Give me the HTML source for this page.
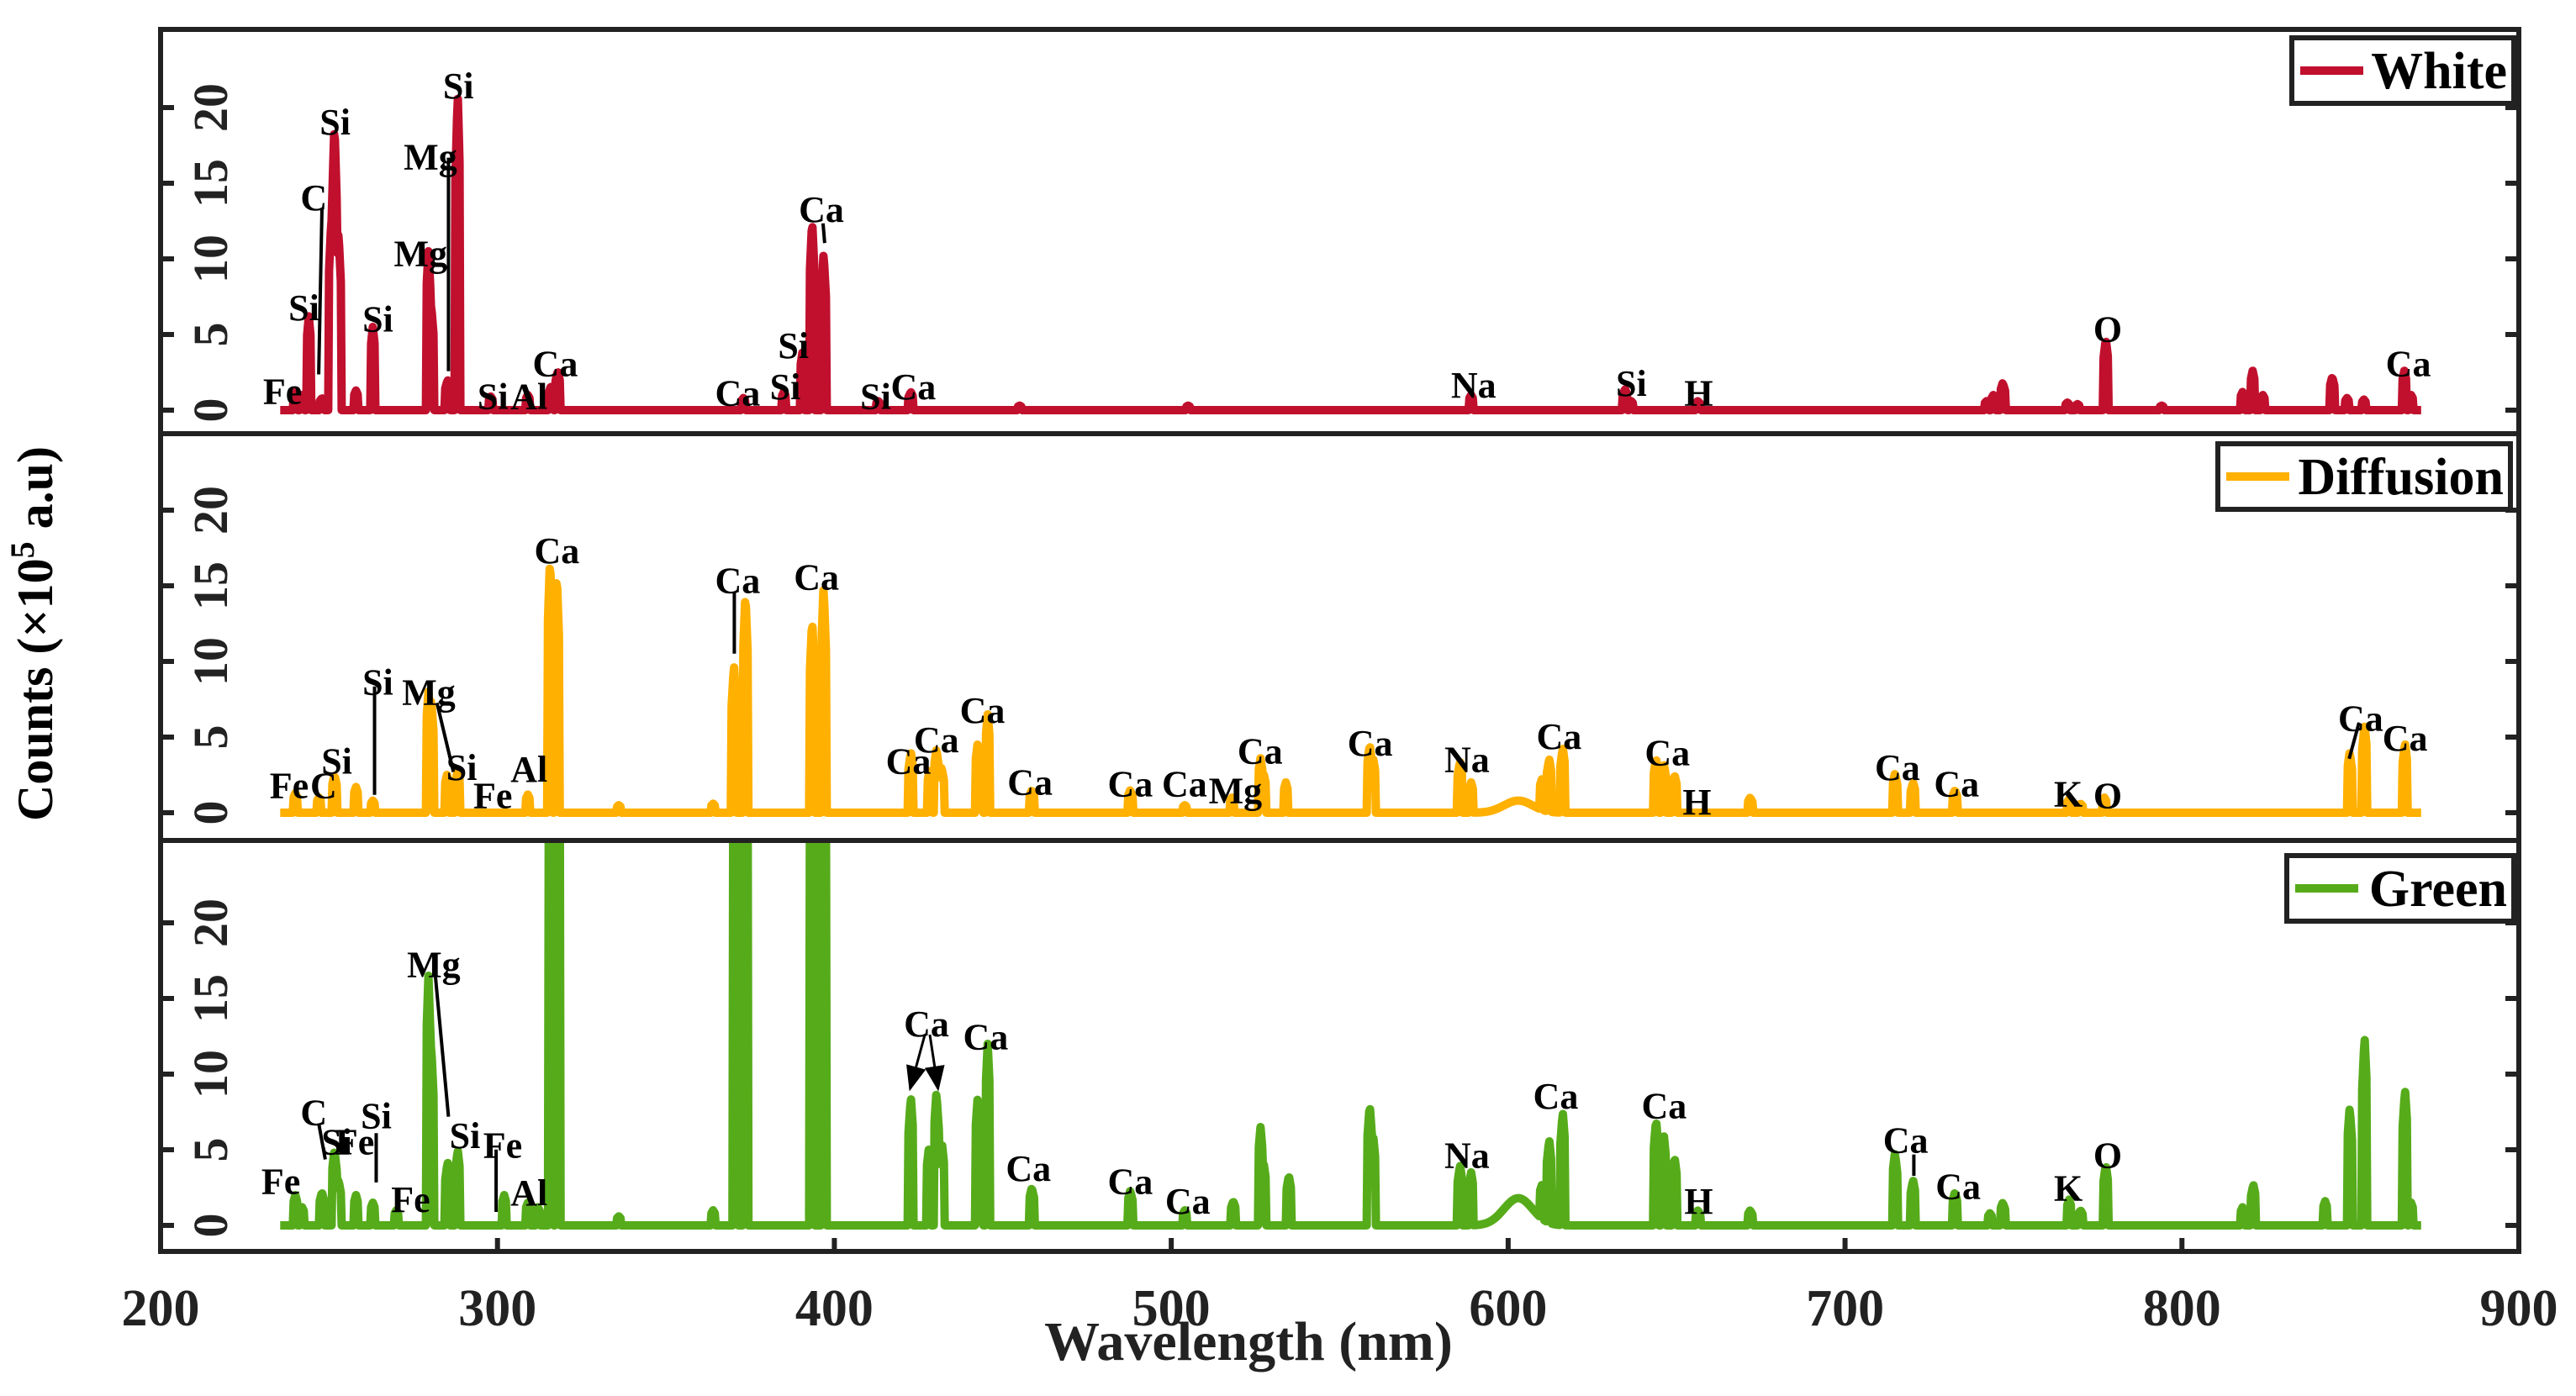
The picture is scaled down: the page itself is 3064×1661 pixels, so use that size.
<!DOCTYPE html>
<html><head><meta charset="utf-8"><style>
html,body{margin:0;padding:0;background:#fff;}
svg{display:block;font-family:"Liberation Serif",serif;font-weight:bold;}
</style></head><body>
<svg id="chart" width="3064" height="1661" viewBox="0 0 3064 1661" xmlns="http://www.w3.org/2000/svg"></svg>
<script>
// ---- data ----
const xTicks = [200,300,400,500,600,700,800,900];
const yTicks = [0,5,10,15,20];
const seriesNames = ["White","Diffusion","Green"];
const seriesColors = ["#c0102e","#ffb000","#56ab1a"];
const whiteWl = [240,242,244,247.9,250.7,251.6,252.8,258,263,279.5,280.3,285.2,288.2,298,309,315.9,317.9,373,385,390.5,393.4,396.8,413,422.7,455,505,589,634.7,636.5,656.3,742,744,746.8,766,769,777.4,794,818,821,824,844.6,849,854,866,868];
const whiteH  = [1.2,1.0,6.2,0.8,12.8,19,11.8,1.3,5.5,10.5,7,2.0,21,0.9,1.0,1.6,2.6,0.8,1.2,3.8,12.6,10.4,0.6,1.2,0.3,0.3,1.0,1.4,0.6,0.6,0.6,1.0,1.8,0.5,0.4,4.7,0.3,1.2,2.6,1.0,2.2,0.8,0.7,2.6,1.0];
const diffWl = [240,247,251.6,258,263,279.5,280.3,285,288.2,309,315.6,317.6,336,364,370.2,373.6,393.4,396.8,422.7,428.3,430.3,431.8,442.5,443.5,445.5,458.6,487.8,504,518,526.5,527.5,534,558.9,560,585.7,589,610,612.2,616.2,643.9,646.2,649.4,671.8,714.8,720.2,732.6,766.5,769.9,777,849.8,854.2,866.2];
const diffH  = [1.3,1.0,2.5,1.7,0.8,8,7.5,2.5,2.8,1.2,16.8,15.8,0.5,0.6,9.8,14.5,12.8,15.0,4.0,2.8,4.2,3.0,4.5,3.5,6.5,1.5,1.5,0.5,1.0,3.6,2.5,2.0,4.5,3.5,3.4,2.0,2.0,3.5,4.3,3.6,3.2,2.5,1.0,2.6,2.0,1.5,0.9,0.6,1.0,4.0,5.8,4.6];
const greenWl = [240,242,247.9,251.6,252.8,258,263,270,279.5,280.3,285.2,288.2,302,309,312,315.9,317.9,336,364,370.6,373.7,393.4,396.8,422.7,428,430.3,431.9,442.5,443.5,445.5,458.6,487.8,504,518.4,526.5,527.5,534.9,558.9,559.9,585.7,589,610,612.2,616.2,643.9,646.2,649.4,656.3,671.8,714.8,720.2,732.6,743,746.8,766.5,769.9,777.4,818,821.2,842.5,849.8,854.2,866.2,868];
const greenH  = [2.0,1.2,2.2,5.0,3.0,2.0,1.5,1.0,16.5,12,4.2,5.0,2.0,1.5,1.2,40,40,0.6,1.0,40,40,40,40,8.5,5.0,8.8,5.5,8.3,6,12,2.5,2.3,1.0,1.6,6.5,4,3.3,8.0,6.0,4.0,3.5,2.2,5.5,7.5,7.0,6.0,4.5,1.0,1.0,4.8,3.0,2.2,0.8,1.5,1.7,1.0,4.0,1.2,2.7,1.6,7.8,12.5,9.0,1.5];
const bumpWl = [603];
const diffBump = [0.8];
const greenBump = [1.8];
// ---- layout ----
const X0=191, X1=2996;
const panels=[{top:35,bot:516,zero:488},{top:516,bot:1000,zero:967},{top:1000,bot:1489,zero:1458}];
const PX=18.0;
function xs(w){return X0+(w-200)/700*(X1-X0);}
function ys(p,v){return panels[p].zero - v*PX;}
const NS="http://www.w3.org/2000/svg";
const svg=document.getElementById('chart');
function mk(t,a,parent){const e=document.createElementNS(NS,t);for(const k in a)e.setAttribute(k,a[k]);(parent||svg).appendChild(e);return e;}
const defs=mk('defs',{});
panels.forEach((p,i)=>{const c=mk('clipPath',{id:'clip'+i},defs);mk('rect',{x:X0,y:p.top,width:X1-X0,height:p.bot-p.top},c);});
function spectrum(wl,h,bw,bh){
  const pts=[];
  for(let x=235.5;x<=871;x+=0.25){
    let v=0;
    for(let k=0;k<wl.length;k++){const d=Math.abs(x-wl[k]);if(d<0.75){v=Math.max(v,h[k]*(1-d/0.75*0.3));}}
    for(let k=0;k<bw.length;k++){const d=(x-bw[k])/6;v+=bh[k]*Math.exp(-d*d);}
    pts.push([x,v]);
  }
  return pts;
}
const specs=[spectrum(whiteWl,whiteH,[],[]),spectrum(diffWl,diffH,bumpWl,diffBump),spectrum(greenWl,greenH,bumpWl,greenBump)];
specs.forEach((pts,i)=>{
  const d=pts.map((q,j)=>(j?'L':'M')+xs(q[0]).toFixed(1)+','+ys(i,q[1]).toFixed(1)).join('');
  const g=mk('g',{'clip-path':'url(#clip'+i+')'});
  const path=mk('path',{d:d,fill:'none',stroke:seriesColors[i],'stroke-width':10,'stroke-linejoin':'round'},g);
  
  
});
// frames & ticks
panels.forEach((p,i)=>{
  const r=mk('rect',{x:X0,y:p.top,width:X1-X0,height:p.bot-p.top,fill:'none',stroke:'#222','stroke-width':6});
  
  
  yTicks.forEach(t=>{
    const y=ys(i,t);
    mk('line',{x1:X0,x2:X0+16,y1:y,y2:y,stroke:'#222','stroke-width':6});
    mk('line',{x1:X1-16,x2:X1,y1:y,y2:y,stroke:'#222','stroke-width':6});
    const tx=mk('text',{x:0,y:0,transform:`translate(270,${y}) rotate(-90)`,'text-anchor':'middle','font-size':58,fill:'#222'});
    tx.textContent=t;
    
    
  });
});
xTicks.forEach(t=>{
  const x=xs(t);
  mk('line',{x1:x,x2:x,y1:1489-16,y2:1489,stroke:'#222','stroke-width':6});
  const tx=mk('text',{x:x,y:1577,'text-anchor':'middle','font-size':62,fill:'#222'});
  tx.textContent=t;
  
  
});
// legends
const legends=[[2726,45,264,78],[2638,528,348,78],[2720,1018,270,78]];
legends.forEach((L,i)=>{
  const g=mk('g',{});
  
  
  mk('rect',{x:L[0],y:L[1],width:L[2],height:L[3],fill:'#fff',stroke:'#222','stroke-width':6},g);
  mk('line',{x1:L[0]+10,x2:L[0]+85,y1:L[1]+L[3]/2,y2:L[1]+L[3]/2,stroke:seriesColors[i],'stroke-width':10},g);
  const t=mk('text',{x:L[2]+L[0]-8,y:L[1]+L[3]/2+21,'text-anchor':'end','font-size':62,fill:'#000'},g);
  t.textContent=seriesNames[i];
});
// annotations (display coords * 1.954)
const S=1.954;
const labels=[
["Fe",172,237],["Si",185,186],["C",191,119],["Si",204,73],["Si",230,193],["Mg",256,153],["Mg",262,94],["Si",279,51],["Si",300,240],["Al",322,240],["Ca",338,220],["Ca",449,238],["Si",478,234],["Si",483,209],["Ca",500,126],["Si",533,240],["Ca",556,234],["Na",897,233],["Si",993,232],["H",1034,238],["O",1283,199],["Ca",1466,220],
["Fe",176,477],["C",197,477],["Si",205,462],["Si",230,414],["Mg",261,420],["Si",281,466],["Fe",300,483],["Al",322,467],["Ca",339,334],["Ca",449,352],["Ca",497,350],["Ca",553,462],["Ca",570,449],["Ca",598,431],["Ca",627,475],["Ca",688,476],["Ca",721,476],["Mg",752,480],["Ca",767,456],["Ca",834,451],["Na",893,461],["Ca",949,447],["Ca",1015,457],["H",1033,487],["Ca",1155,466],["Ca",1191,476],["K",1259,482],["O",1283,483],["Ca",1437,436],["Ca",1464,448],
["Fe",171,718],["C",191,676],["Si",205,694],["Fe",216,694],["Si",229,678],["Fe",250,729],["Mg",264,586],["Si",283,690],["Fe",306,696],["Al",322,725],["Ca",564,622],["Ca",600,630],["Ca",626,710],["Ca",688,718],["Ca",723,730],["Na",893,702],["Ca",947,666],["Ca",1013,672],["H",1034,730],["Ca",1160,693],["Ca",1192,721],["K",1259,722],["O",1283,702]];
labels.forEach(l=>{
  const t=mk('text',{x:l[1]*S,y:(l[2]+9)*S,'text-anchor':'middle','font-size':44,fill:'#000'});
  t.textContent=l[0];
  
  
});
const leaders=[[196,127,194,228],[273,96,273,226],[501,136,502,148],[228,418,228,484],[266,428,276,470],[447,361,447,398],[1436,440,1430,462],[194,684,198,706],[229,690,229,720],[265,594,273,680],[302,700,302,738],[1165,703,1165,716]];
leaders.forEach(a=>{mk('line',{x1:a[0]*S,y1:a[1]*S,x2:a[2]*S,y2:a[3]*S,stroke:'#000','stroke-width':4});});
mk('path',{d:'M0,0 L10,4 L0,8 z',fill:'#000'},mk('marker',{id:'arr',markerWidth:10,markerHeight:8,refX:9,refY:4,orient:'auto'},defs));
[[563,630,554,663],[566,630,571,663]].forEach(a=>{mk('line',{x1:a[0]*S,y1:a[1]*S,x2:a[2]*S,y2:a[3]*S,stroke:'#000','stroke-width':3,'marker-end':'url(#arr)'});});
// axis titles
const xt=mk('text',{x:1485,y:1618,'text-anchor':'middle','font-size':66,fill:'#222'});
xt.textContent='Wavelength (nm)';


const yt=mk('text',{x:0,y:0,transform:'translate(62,754) rotate(-90)','text-anchor':'middle','font-size':60,fill:'#000'});
yt.innerHTML='Counts (×10<tspan dy="-22" font-size="40">5</tspan><tspan dy="22"> a.u)</tspan>';


</script>
</body></html>
